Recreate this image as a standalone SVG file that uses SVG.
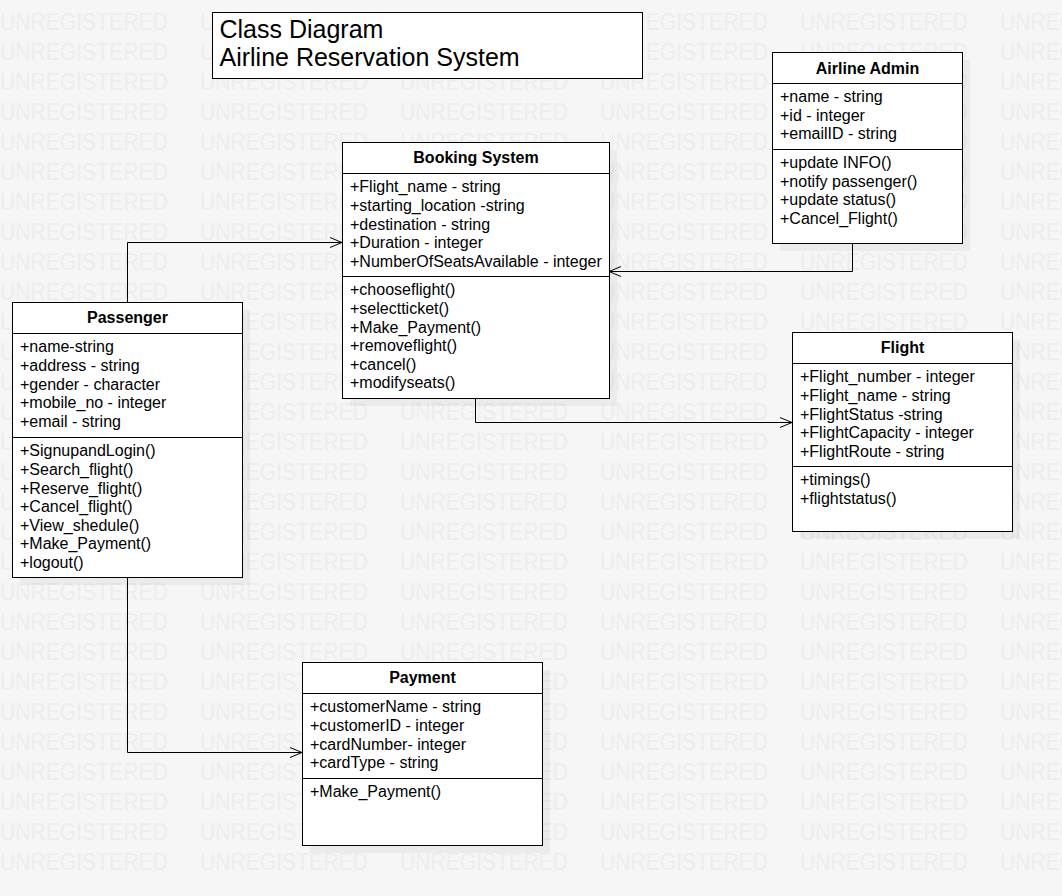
<svg xmlns="http://www.w3.org/2000/svg" xmlns:xlink="http://www.w3.org/1999/xlink" width="1062" height="896" viewBox="0 0 1062 896">
<style>
.box{fill:#fff;stroke:#000;stroke-width:1}
.shadow{fill:#000;fill-opacity:0.045}
.sep{stroke:#000;stroke-width:1}
.t{font-family:"Liberation Sans",Arial,sans-serif;font-size:16px;fill:#000}
.h{font-family:"Liberation Sans",Arial,sans-serif;font-size:16px;font-weight:bold;fill:#000;text-anchor:middle}
.title{font-family:"Liberation Sans",Arial,sans-serif;font-size:25px;fill:#000}
.wm{font-family:"Liberation Sans",Arial,sans-serif;font-size:24px;fill:#ededed}
.conn{fill:none;stroke:#000;stroke-width:1}
</style>
<defs>
<marker id="open" markerUnits="userSpaceOnUse" markerWidth="14" markerHeight="12" refX="12" refY="5" orient="auto" viewBox="-1 -1 14 12">
<path d="M0,0 L12,5 L0,10" fill="none" stroke="#000" stroke-width="1"/>
</marker>
<g id="wmrow" transform="scale(0.88 1)">
<text class="wm" y="30.5"><tspan x="0">UNREGISTERED</tspan><tspan x="227.27">UNREGISTERED</tspan><tspan x="454.55">UNREGISTERED</tspan><tspan x="681.82">UNREGISTERED</tspan><tspan x="909.09">UNREGISTERED</tspan><tspan x="1136.36">UNREGISTERED</tspan></text>
</g>
</defs>
<rect x="0" y="0" width="1062" height="896" fill="#f6f6f6"/>
<g id="watermark">
<use xlink:href="#wmrow" y="0"/><use xlink:href="#wmrow" y="30"/><use xlink:href="#wmrow" y="60"/><use xlink:href="#wmrow" y="90"/><use xlink:href="#wmrow" y="120"/><use xlink:href="#wmrow" y="150"/><use xlink:href="#wmrow" y="180"/><use xlink:href="#wmrow" y="210"/><use xlink:href="#wmrow" y="240"/><use xlink:href="#wmrow" y="270"/><use xlink:href="#wmrow" y="300"/><use xlink:href="#wmrow" y="330"/><use xlink:href="#wmrow" y="360"/><use xlink:href="#wmrow" y="390"/><use xlink:href="#wmrow" y="420"/><use xlink:href="#wmrow" y="450"/><use xlink:href="#wmrow" y="480"/><use xlink:href="#wmrow" y="510"/><use xlink:href="#wmrow" y="540"/><use xlink:href="#wmrow" y="570"/><use xlink:href="#wmrow" y="600"/><use xlink:href="#wmrow" y="630"/><use xlink:href="#wmrow" y="660"/><use xlink:href="#wmrow" y="690"/><use xlink:href="#wmrow" y="720"/><use xlink:href="#wmrow" y="750"/><use xlink:href="#wmrow" y="780"/><use xlink:href="#wmrow" y="810"/><use xlink:href="#wmrow" y="840"/>
</g>
<g id="shadows">
<rect class="shadow" x="780" y="60" width="190" height="191"/>
<rect class="shadow" x="350" y="150" width="267" height="256"/>
<rect class="shadow" x="20" y="310" width="230" height="275"/>
<rect class="shadow" x="800" y="340" width="220" height="199"/>
<rect class="shadow" x="310" y="670" width="240" height="183"/>
</g>
<g id="connectors">
<path class="conn" d="M127.5,302 V242.5 H342" marker-end="url(#open)"/>
<path class="conn" d="M852.5,244 V271.5 H609" marker-end="url(#open)"/>
<path class="conn" d="M475.5,399 V422.5 H792" marker-end="url(#open)"/>
<path class="conn" d="M127.5,578 V752.5 H302" marker-end="url(#open)"/>
</g>
<g id="title">
<rect class="box" x="212.5" y="12.5" width="430" height="66"/>
<text class="title" x="219.5" y="37.5">Class Diagram</text>
<text class="title" x="219.5" y="65.5">Airline Reservation System</text>
</g>
<g id="airline-admin">
<rect class="box" x="772.5" y="52.5" width="190" height="191"/>
<line class="sep" x1="772.5" y1="83.5" x2="962.5" y2="83.5"/>
<line class="sep" x1="772.5" y1="149.5" x2="962.5" y2="149.5"/>
<text class="h" x="867.5" y="73.5">Airline Admin</text>
<text class="t" x="780" y="102">+name - string</text>
<text class="t" x="780" y="120.6">+id - integer</text>
<text class="t" x="780" y="139.2">+emailID - string</text>
<text class="t" x="780" y="168">+update INFO()</text>
<text class="t" x="780" y="186.6">+notify passenger()</text>
<text class="t" x="780" y="205.2">+update status()</text>
<text class="t" x="780" y="223.8">+Cancel_Flight()</text>
</g>
<g id="booking-system">
<rect class="box" x="342.5" y="142.5" width="267" height="256"/>
<line class="sep" x1="342.5" y1="173.5" x2="609.5" y2="173.5"/>
<line class="sep" x1="342.5" y1="276.5" x2="609.5" y2="276.5"/>
<text class="h" x="476" y="163">Booking System</text>
<text class="t" x="350" y="192.3">+Flight_name - string</text>
<text class="t" x="350" y="210.9">+starting_location -string</text>
<text class="t" x="350" y="229.5">+destination - string</text>
<text class="t" x="350" y="248.1">+Duration - integer</text>
<text class="t" x="350" y="266.7">+NumberOfSeatsAvailable - integer</text>
<text class="t" x="350" y="295.3">+chooseflight()</text>
<text class="t" x="350" y="313.9">+selectticket()</text>
<text class="t" x="350" y="332.5">+Make_Payment()</text>
<text class="t" x="350" y="351.1">+removeflight()</text>
<text class="t" x="350" y="369.7">+cancel()</text>
<text class="t" x="350" y="388.3">+modifyseats()</text>
</g>
<g id="passenger">
<rect class="box" x="12.5" y="302.5" width="230" height="275"/>
<line class="sep" x1="12.5" y1="333.5" x2="242.5" y2="333.5"/>
<line class="sep" x1="12.5" y1="437.5" x2="242.5" y2="437.5"/>
<text class="h" x="127.5" y="323">Passenger</text>
<text class="t" x="20" y="352.3">+name-string</text>
<text class="t" x="20" y="370.9">+address - string</text>
<text class="t" x="20" y="389.5">+gender - character</text>
<text class="t" x="20" y="408.1">+mobile_no - integer</text>
<text class="t" x="20" y="426.7">+email - string</text>
<text class="t" x="20" y="456.3">+SignupandLogin()</text>
<text class="t" x="20" y="474.9">+Search_flight()</text>
<text class="t" x="20" y="493.5">+Reserve_flight()</text>
<text class="t" x="20" y="512.1">+Cancel_flight()</text>
<text class="t" x="20" y="530.7">+View_shedule()</text>
<text class="t" x="20" y="549.3">+Make_Payment()</text>
<text class="t" x="20" y="567.9">+logout()</text>
</g>
<g id="flight">
<rect class="box" x="792.5" y="332.5" width="220" height="199"/>
<line class="sep" x1="792.5" y1="363.5" x2="1012.5" y2="363.5"/>
<line class="sep" x1="792.5" y1="466.5" x2="1012.5" y2="466.5"/>
<text class="h" x="902.5" y="353">Flight</text>
<text class="t" x="800" y="382.3">+Flight_number - integer</text>
<text class="t" x="800" y="400.9">+Flight_name - string</text>
<text class="t" x="800" y="419.5">+FlightStatus -string</text>
<text class="t" x="800" y="438.1">+FlightCapacity - integer</text>
<text class="t" x="800" y="456.7">+FlightRoute - string</text>
<text class="t" x="800" y="485.3">+timings()</text>
<text class="t" x="800" y="503.9">+flightstatus()</text>
</g>
<g id="payment">
<rect class="box" x="302.5" y="662.5" width="240" height="183"/>
<line class="sep" x1="302.5" y1="693.5" x2="542.5" y2="693.5"/>
<line class="sep" x1="302.5" y1="778.5" x2="542.5" y2="778.5"/>
<text class="h" x="422.5" y="683">Payment</text>
<text class="t" x="310" y="712.3">+customerName - string</text>
<text class="t" x="310" y="730.9">+customerID - integer</text>
<text class="t" x="310" y="749.5">+cardNumber- integer</text>
<text class="t" x="310" y="768.1">+cardType - string</text>
<text class="t" x="310" y="797.3">+Make_Payment()</text>
</g>
</svg>
